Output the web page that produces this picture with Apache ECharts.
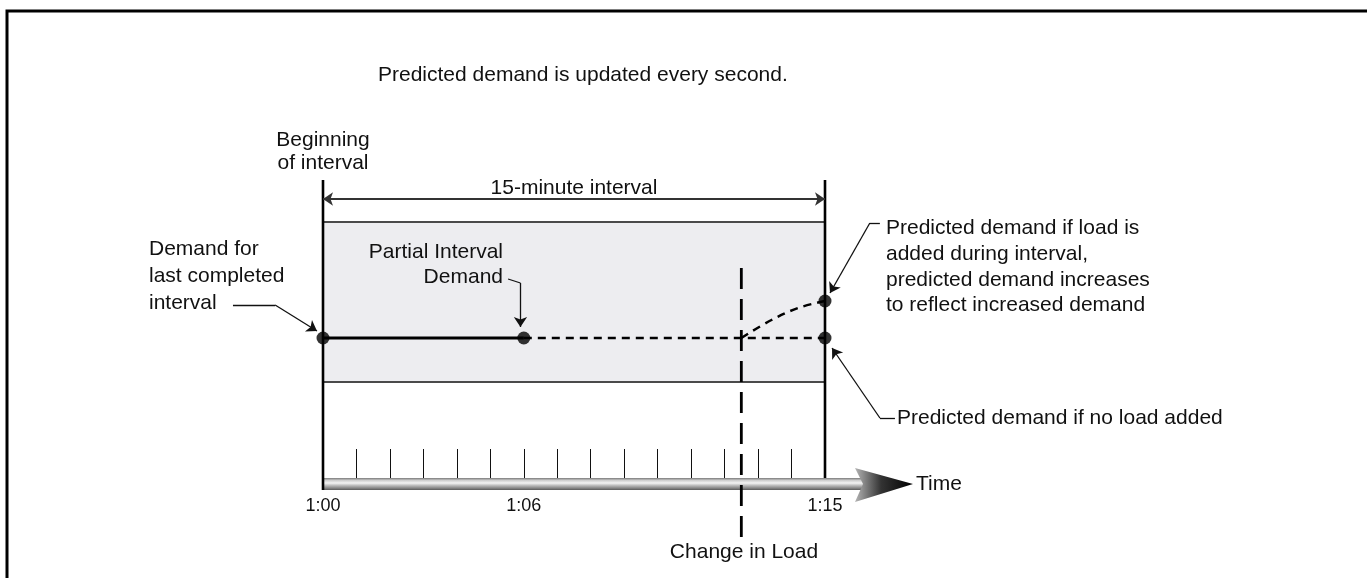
<!DOCTYPE html>
<html>
<head>
<meta charset="utf-8">
<title>Predicted demand</title>
<script src="https://cdn.jsdelivr.net/npm/echarts@6/dist/echarts.min.js"></script>
<style>
  html, body { margin: 0; padding: 0; background: #fff; }
  #chart { width: 1367px; height: 578px; }
</style>
</head>
<body>
<div id="chart"></div>
<script>
// minutes into the interval (x) and demand level (y, arbitrary units)
const boundaryMinutes = [0, 15]
const tickMinutes = [0, 6, 15]
const tickLabels = ['1:00', '1:06', '1:15']
const intervalBand = [48, 128]
const boundaryTop = 149
const spanArrowLevel = 139.5
const completedDemand = [[0, 70], [6, 70]]
const noLoadPrediction = [[6, 70], [15, 70]]
const loadPrediction = [[12.5, 70], [13.4, 79], [14.2, 85], [15, 88.5]]
const demandPoints = [[0, 70], [6, 70], [15, 70], [15, 88.5]]
const loadChange = [[12.5, 105], [12.5, -30.5]]

// leader lines for the notes
const leaderStubs = [
  [[-2.69, 86.5], [-1.43, 86.5]],
  [[5.53, 99.5], [5.9, 97.5]],
  [[16.64, 127.5], [16.34, 127.5]],
  [[17.09, 30], [16.64, 30]]
]
const leaderArrows = [
  [[-1.43, 86.5], [-0.18, 73.5]],
  [[5.9, 97.5], [5.9, 75.5]],
  [[16.34, 127.5], [15.15, 92.5]],
  [[16.64, 30], [15.21, 65]]
]

const FONT = '"Liberation Sans", Arial, Helvetica, sans-serif'
const INK = '#111'

function txt(text, x, y, align, lh) {
  return {
    type: 'text',
    z: 20,
    x: x,
    y: y,
    style: {
      text: text,
      fill: INK,
      font: '21px ' + FONT,
      align: align || 'left',
      verticalAlign: 'middle',
      lineHeight: lh || 26
    }
  }
}

const chart = echarts.init(document.getElementById('chart'))

chart.setOption({
  backgroundColor: '#fff',
  animation: false,
  grid: { left: 323, right: 542, top: 178, bottom: 100 },
  xAxis: {
    type: 'value',
    min: 0,
    max: 15,
    interval: 1,
    splitLine: { show: false },
    axisLine: { show: false },
    axisTick: { show: true, inside: true, length: 29, lineStyle: { color: INK, width: 1 } },
    axisLabel: {
      margin: 19,
      fontSize: 18,
      fontFamily: FONT,
      color: INK,
      formatter: function (v) {
        const i = tickMinutes.indexOf(v)
        return i < 0 ? '' : tickLabels[i]
      }
    }
  },
  yAxis: { type: 'value', min: 0, max: 150, show: false },
  graphic: [
    {
      type: 'polyline',
      z: 20,
      shape: { points: [[7, 578], [7, 11], [1367, 11]] },
      style: { stroke: '#000', lineWidth: 3, fill: null }
    },
    txt('Predicted demand is updated every second.', 378, 75),
    txt('Beginning\nof interval', 323, 152, 'center', 23),
    txt('15-minute interval', 574, 188, 'center'),
    txt('Demand for\nlast completed\ninterval', 149, 276, 'left', 27),
    txt('Partial Interval\nDemand', 503, 265, 'right', 25),
    txt('Predicted demand if load is\nadded during interval,\npredicted demand increases\nto reflect increased demand', 886, 267, 'left', 25.7),
    txt('Predicted demand if no load added', 897, 418),
    txt('Time', 916, 484),
    txt('Change in Load', 744, 552, 'center')
  ],
  series: [
    {
      // shaded interval band
      type: 'line',
      z: 1,
      data: [],
      markArea: {
        silent: true,
        itemStyle: { color: '#ededf0', borderColor: '#4a4a4a', borderWidth: 2 },
        data: [[
          { xAxis: boundaryMinutes[0], yAxis: intervalBand[1] },
          { xAxis: boundaryMinutes[1], yAxis: intervalBand[0] }
        ]]
      }
    },
    {
      type: 'line',
      z: 3,
      clip: false,
      symbol: 'none',
      data: [[boundaryMinutes[0], boundaryTop], [boundaryMinutes[0], -6]],
      lineStyle: { color: '#000', width: 2.6 }
    },
    {
      type: 'line',
      z: 3,
      clip: false,
      symbol: 'none',
      data: [[boundaryMinutes[1], boundaryTop], [boundaryMinutes[1], 0]],
      lineStyle: { color: '#000', width: 2.6 }
    },
    {
      // time bar with arrow
      type: 'custom',
      z: 2,
      clip: false,
      data: [boundaryMinutes],
      encode: { x: [0, 1] },
      renderItem: function (params, api) {
        const a = api.coord([api.value(0), 0])
        const b = api.coord([api.value(1), 0])
        const y0 = a[1]
        const barEnd = b[0] + 30
        const tip = barEnd + 58
        return {
          type: 'group',
          children: [
            {
              type: 'rect',
              shape: { x: a[0], y: y0, width: barEnd + 8 - a[0], height: 12 },
              style: {
                fill: new echarts.graphic.LinearGradient(0, 0, 0, 1, [
                  { offset: 0, color: '#7a7a7a' },
                  { offset: 0.2, color: '#cfcfcf' },
                  { offset: 0.42, color: '#f4f4f4' },
                  { offset: 0.62, color: '#bdbdbd' },
                  { offset: 0.85, color: '#858585' },
                  { offset: 1, color: '#5a5a5a' }
                ])
              }
            },
            {
              type: 'polygon',
              shape: { points: [[barEnd, y0 - 10], [tip, y0 + 6], [barEnd, y0 + 24], [barEnd + 8, y0 + 6]] },
              style: {
                fill: new echarts.graphic.LinearGradient(0, 0, 1, 0, [
                  { offset: 0, color: '#b4b4b4' },
                  { offset: 0.45, color: '#333' },
                  { offset: 1, color: '#000' }
                ])
              }
            }
          ]
        }
      }
    },
    {
      type: 'line',
      z: 4,
      symbol: 'none',
      data: completedDemand,
      lineStyle: { color: '#000', width: 3 }
    },
    {
      type: 'line',
      z: 4,
      symbol: 'none',
      data: noLoadPrediction,
      lineStyle: { color: '#000', width: 2.5, type: [8, 6] }
    },
    {
      type: 'line',
      z: 4,
      symbol: 'none',
      smooth: 0.4,
      data: loadPrediction,
      lineStyle: { color: '#000', width: 2.5, type: [8, 6] }
    },
    {
      type: 'line',
      z: 5,
      clip: false,
      symbol: 'none',
      data: loadChange,
      lineStyle: { color: '#000', width: 2.8, type: [21, 10] }
    },
    {
      // 15-minute span arrow
      type: 'lines',
      coordinateSystem: 'cartesian2d',
      z: 4,
      clip: false,
      symbol: ['arrow', 'arrow'],
      symbolSize: 10,
      data: [{ coords: [[boundaryMinutes[0], spanArrowLevel], [boundaryMinutes[1], spanArrowLevel]] }],
      lineStyle: { color: '#333', width: 1.8, opacity: 1, curveness: 0 }
    },
    {
      type: 'lines',
      coordinateSystem: 'cartesian2d',
      z: 4,
      clip: false,
      symbol: 'none',
      data: leaderStubs.map(c => ({ coords: c })),
      lineStyle: { color: INK, width: 1.3, opacity: 1, curveness: 0 }
    },
    {
      type: 'lines',
      coordinateSystem: 'cartesian2d',
      z: 4,
      clip: false,
      symbol: ['none', 'arrow'],
      symbolSize: 10,
      data: leaderArrows.map(c => ({ coords: c })),
      lineStyle: { color: INK, width: 1.3, opacity: 1, curveness: 0 }
    },
    {
      type: 'scatter',
      z: 6,
      symbolSize: 13,
      itemStyle: { color: '#000' },
      data: demandPoints
    }
  ]
})
</script>
</body>
</html>
